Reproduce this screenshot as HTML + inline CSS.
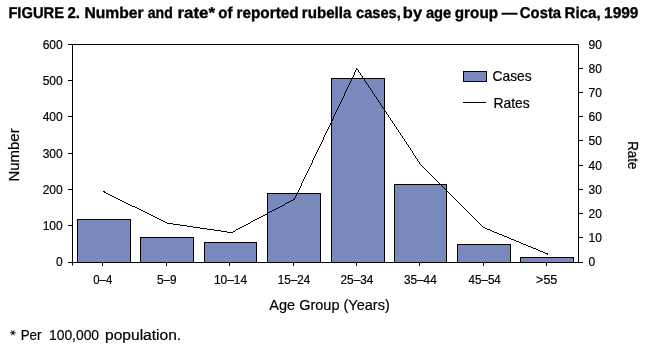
<!DOCTYPE html><html><head><meta charset="utf-8"><style>html,body{margin:0;padding:0;background:#fff;overflow:hidden}svg{display:block;will-change:transform}text{font-family:"Liberation Sans",sans-serif;fill:#000}.n text{stroke:#000;stroke-width:0.2px}</style></head><body>
<svg width="649" height="351" viewBox="0 0 649 351">
<text transform="translate(8.38 17.6) scale(0.9203 0.98)" font-size="16" font-weight="bold" stroke="#000" stroke-width="0.35" text-rendering="geometricPrecision">FIGURE</text>
<text transform="translate(67.50 17.6) scale(0.9385 0.98)" font-size="16" font-weight="bold" stroke="#000" stroke-width="0.35" text-rendering="geometricPrecision">2.</text>
<text transform="translate(84.42 17.6) scale(0.9797 0.98)" font-size="16" font-weight="bold" stroke="#000" stroke-width="0.35" text-rendering="geometricPrecision">Number</text>
<text transform="translate(147.80 17.6) scale(0.8786 0.98)" font-size="16" font-weight="bold" stroke="#000" stroke-width="0.35" text-rendering="geometricPrecision">and</text>
<text transform="translate(177.44 17.6) scale(1.0571 0.98)" font-size="16" font-weight="bold" stroke="#000" stroke-width="0.35" text-rendering="geometricPrecision">rate*</text>
<text transform="translate(218.36 17.6) scale(0.9357 0.98)" font-size="16" font-weight="bold" stroke="#000" stroke-width="0.35" text-rendering="geometricPrecision">of</text>
<text transform="translate(236.44 17.6) scale(0.9587 0.98)" font-size="16" font-weight="bold" stroke="#000" stroke-width="0.35" text-rendering="geometricPrecision">reported</text>
<text transform="translate(301.75 17.6) scale(0.9481 0.98)" font-size="16" font-weight="bold" stroke="#000" stroke-width="0.35" text-rendering="geometricPrecision">rubella</text>
<text transform="translate(355.98 17.6) scale(0.9170 0.98)" font-size="16" font-weight="bold" stroke="#000" stroke-width="0.35" text-rendering="geometricPrecision">cases,</text>
<text transform="translate(402.87 17.6) scale(1.0278 0.98)" font-size="16" font-weight="bold" stroke="#000" stroke-width="0.35" text-rendering="geometricPrecision">by</text>
<text transform="translate(425.90 17.6) scale(0.9222 0.98)" font-size="16" font-weight="bold" stroke="#000" stroke-width="0.35" text-rendering="geometricPrecision">age</text>
<text transform="translate(454.74 17.6) scale(0.9568 0.98)" font-size="16" font-weight="bold" stroke="#000" stroke-width="0.35" text-rendering="geometricPrecision">group</text>
<text transform="translate(501.80 17.6) scale(0.9687 0.98)" font-size="16" font-weight="bold" stroke="#000" stroke-width="0.35" text-rendering="geometricPrecision">—</text>
<text transform="translate(519.87 17.6) scale(0.9273 0.98)" font-size="16" font-weight="bold" stroke="#000" stroke-width="0.35" text-rendering="geometricPrecision">Costa</text>
<text transform="translate(564.56 17.6) scale(0.9417 0.98)" font-size="16" font-weight="bold" stroke="#000" stroke-width="0.35" text-rendering="geometricPrecision">Rica,</text>
<text transform="translate(604.03 17.6) scale(0.9676 0.98)" font-size="16" font-weight="bold" stroke="#000" stroke-width="0.35" text-rendering="geometricPrecision">1999</text>
<text transform="translate(93.30 284) scale(0.9450 1)" font-size="12" stroke="#000" stroke-width="0.2">0–4</text>
<text transform="translate(156.92 284) scale(0.9842 1)" font-size="12" stroke="#000" stroke-width="0.2">5–9</text>
<text transform="translate(213.90 284) scale(0.9969 1)" font-size="12" stroke="#000" stroke-width="0.2">10–14</text>
<text transform="translate(277.83 284) scale(0.9719 1)" font-size="12" stroke="#000" stroke-width="0.2">15–24</text>
<text transform="translate(340.51 284) scale(0.9875 1)" font-size="12" stroke="#000" stroke-width="0.2">25–34</text>
<text transform="translate(403.92 284) scale(0.9844 1)" font-size="12" stroke="#000" stroke-width="0.2">35–44</text>
<text transform="translate(468.50 284) scale(0.9697 1)" font-size="12" stroke="#000" stroke-width="0.2">45–54</text>
<text transform="translate(536.05 284) scale(1.0474 1)" font-size="12" stroke="#000" stroke-width="0.2">&gt;55</text>
<text transform="translate(269.30 309.8) scale(1.0374 1)" font-size="14" stroke="#000" stroke-width="0.2">Age Group (Years)</text>
<text transform="translate(492.51 80.8) scale(0.9868 1)" font-size="14" stroke="#000" stroke-width="0.2">Cases</text>
<text transform="translate(493.51 107.8) scale(0.9914 1)" font-size="14" stroke="#000" stroke-width="0.2">Rates</text>
<text transform="translate(20.64 340) scale(0.9619 1)" font-size="14" stroke="#000" stroke-width="0.2">Per</text>
<text transform="translate(49.01 340) scale(0.9898 1)" font-size="14" stroke="#000" stroke-width="0.2">100,000</text>
<text transform="translate(104.99 340) scale(1.1136 1)" font-size="14" stroke="#000" stroke-width="0.2">population.</text>
<text transform="translate(19.2 181.57) rotate(-90) scale(1.0694 1)" font-size="14" stroke="#000" stroke-width="0.2">Number</text>
<text transform="translate(628 141.14) rotate(90) scale(0.9571 1)" font-size="14" stroke="#000" stroke-width="0.2">Rate</text>
<rect x="77.5" y="219.5" width="53" height="43" fill="#7989be" stroke="#000" stroke-width="1"/>
<rect x="140.5" y="237.5" width="53" height="25" fill="#7989be" stroke="#000" stroke-width="1"/>
<rect x="204.5" y="242.5" width="52" height="20" fill="#7989be" stroke="#000" stroke-width="1"/>
<rect x="267.5" y="193.5" width="53" height="69" fill="#7989be" stroke="#000" stroke-width="1"/>
<rect x="331.5" y="78.5" width="53" height="184" fill="#7989be" stroke="#000" stroke-width="1"/>
<rect x="394.5" y="184.5" width="52" height="78" fill="#7989be" stroke="#000" stroke-width="1"/>
<rect x="457.5" y="244.5" width="53" height="18" fill="#7989be" stroke="#000" stroke-width="1"/>
<rect x="520.5" y="257.5" width="53" height="5" fill="#7989be" stroke="#000" stroke-width="1"/>
<path d="M72.5 44.5H578.5 M72.5 44.5V265.5 M578.5 44.5V262.5 M68 262.5H583 M68 80.5H72.5 M68 116.5H72.5 M68 153.5H72.5 M68 189.5H72.5 M68 225.5H72.5 M68 44.5H72.5 M578.5 68.5H583 M578.5 92.5H583 M578.5 116.5H583 M578.5 140.5H583 M578.5 165.5H583 M578.5 189.5H583 M578.5 213.5H583 M578.5 237.5H583 M102.5 262.5V266 M166.5 262.5V266 M229.5 262.5V266 M293.5 262.5V266 M356.5 262.5V266 M419.5 262.5V266 M483.5 262.5V266 M546.5 262.5V266" stroke="#000" stroke-width="1" fill="none"/>
<text x="62.7" y="266" font-size="12" text-anchor="end" stroke="#000" stroke-width="0.2">0</text>
<text x="62.7" y="230" font-size="12" text-anchor="end" stroke="#000" stroke-width="0.2">100</text>
<text x="62.7" y="194" font-size="12" text-anchor="end" stroke="#000" stroke-width="0.2">200</text>
<text x="62.7" y="158" font-size="12" text-anchor="end" stroke="#000" stroke-width="0.2">300</text>
<text x="62.7" y="121" font-size="12" text-anchor="end" stroke="#000" stroke-width="0.2">400</text>
<text x="62.7" y="85" font-size="12" text-anchor="end" stroke="#000" stroke-width="0.2">500</text>
<text x="62.7" y="49" font-size="12" text-anchor="end" stroke="#000" stroke-width="0.2">600</text>
<text x="588.6" y="266" font-size="12" stroke="#000" stroke-width="0.2">0</text>
<text x="588.6" y="242" font-size="12" stroke="#000" stroke-width="0.2">10</text>
<text x="588.6" y="218" font-size="12" stroke="#000" stroke-width="0.2">20</text>
<text x="588.6" y="194" font-size="12" stroke="#000" stroke-width="0.2">30</text>
<text x="588.6" y="170" font-size="12" stroke="#000" stroke-width="0.2">40</text>
<text x="588.6" y="145" font-size="12" stroke="#000" stroke-width="0.2">50</text>
<text x="588.6" y="121" font-size="12" stroke="#000" stroke-width="0.2">60</text>
<text x="588.6" y="97" font-size="12" stroke="#000" stroke-width="0.2">70</text>
<text x="588.6" y="73" font-size="12" stroke="#000" stroke-width="0.2">80</text>
<text x="588.6" y="49" font-size="12" stroke="#000" stroke-width="0.2">90</text>
<path d="M356 68h1v1h-1zM356 69h2v1h-2zM355 70h1v1h-1zM358 70h1v1h-1zM355 71h1v1h-1zM358 71h1v1h-1zM354 72h1v1h-1zM359 72h1v1h-1zM354 73h1v1h-1zM360 73h1v1h-1zM354 74h1v1h-1zM360 74h1v1h-1zM353 75h1v1h-1zM361 75h1v1h-1zM353 76h1v1h-1zM362 76h1v1h-1zM352 77h1v1h-1zM362 77h1v1h-1zM352 78h1v1h-1zM363 78h1v1h-1zM351 79h1v1h-1zM364 79h1v1h-1zM351 80h1v1h-1zM364 80h1v1h-1zM350 81h1v1h-1zM365 81h1v1h-1zM350 82h1v1h-1zM366 82h1v1h-1zM349 83h1v1h-1zM366 83h1v1h-1zM349 84h1v1h-1zM367 84h1v1h-1zM348 85h1v1h-1zM368 85h1v1h-1zM348 86h1v1h-1zM368 86h1v1h-1zM347 87h1v1h-1zM369 87h1v1h-1zM347 88h1v1h-1zM370 88h1v1h-1zM346 89h1v1h-1zM370 89h1v1h-1zM346 90h1v1h-1zM371 90h1v1h-1zM345 91h1v1h-1zM372 91h1v1h-1zM345 92h1v1h-1zM372 92h1v1h-1zM344 93h1v1h-1zM373 93h1v1h-1zM344 94h1v1h-1zM374 94h1v1h-1zM344 95h1v1h-1zM374 95h1v1h-1zM343 96h1v1h-1zM375 96h1v1h-1zM343 97h1v1h-1zM376 97h1v1h-1zM342 98h1v1h-1zM376 98h1v1h-1zM342 99h1v1h-1zM377 99h1v1h-1zM341 100h1v1h-1zM378 100h1v1h-1zM341 101h1v1h-1zM378 101h1v1h-1zM340 102h1v1h-1zM379 102h1v1h-1zM340 103h1v1h-1zM380 103h1v1h-1zM339 104h1v1h-1zM380 104h1v1h-1zM339 105h1v1h-1zM381 105h1v1h-1zM338 106h1v1h-1zM382 106h1v1h-1zM338 107h1v1h-1zM382 107h1v1h-1zM337 108h1v1h-1zM383 108h1v1h-1zM337 109h1v1h-1zM384 109h1v1h-1zM336 110h1v1h-1zM384 110h1v1h-1zM336 111h1v1h-1zM385 111h1v1h-1zM335 112h1v1h-1zM386 112h1v1h-1zM335 113h1v1h-1zM386 113h1v1h-1zM334 114h1v1h-1zM387 114h1v1h-1zM334 115h1v1h-1zM388 115h1v1h-1zM333 116h1v1h-1zM388 116h1v1h-1zM333 117h1v1h-1zM389 117h1v1h-1zM333 118h1v1h-1zM390 118h1v1h-1zM332 119h1v1h-1zM390 119h1v1h-1zM332 120h1v1h-1zM391 120h1v1h-1zM331 121h1v1h-1zM392 121h1v1h-1zM331 122h1v1h-1zM392 122h1v1h-1zM330 123h1v1h-1zM393 123h1v1h-1zM330 124h1v1h-1zM394 124h1v1h-1zM329 125h1v1h-1zM394 125h1v1h-1zM329 126h1v1h-1zM395 126h1v1h-1zM328 127h1v1h-1zM396 127h1v1h-1zM328 128h1v1h-1zM396 128h1v1h-1zM327 129h1v1h-1zM397 129h1v1h-1zM327 130h1v1h-1zM398 130h1v1h-1zM326 131h1v1h-1zM398 131h1v1h-1zM326 132h1v1h-1zM399 132h1v1h-1zM325 133h1v1h-1zM400 133h1v1h-1zM325 134h1v1h-1zM400 134h1v1h-1zM324 135h1v1h-1zM401 135h1v1h-1zM324 136h1v1h-1zM402 136h1v1h-1zM323 137h1v1h-1zM402 137h1v1h-1zM323 138h1v1h-1zM403 138h1v1h-1zM323 139h1v1h-1zM404 139h1v1h-1zM322 140h1v1h-1zM404 140h1v1h-1zM322 141h1v1h-1zM405 141h1v1h-1zM321 142h1v1h-1zM406 142h1v1h-1zM321 143h1v1h-1zM406 143h1v1h-1zM320 144h1v1h-1zM407 144h1v1h-1zM320 145h1v1h-1zM408 145h1v1h-1zM319 146h1v1h-1zM408 146h1v1h-1zM319 147h1v1h-1zM409 147h1v1h-1zM318 148h1v1h-1zM410 148h1v1h-1zM318 149h1v1h-1zM410 149h1v1h-1zM317 150h1v1h-1zM411 150h1v1h-1zM317 151h1v1h-1zM412 151h1v1h-1zM316 152h1v1h-1zM412 152h1v1h-1zM316 153h1v1h-1zM413 153h1v1h-1zM315 154h1v1h-1zM413 154h1v1h-1zM315 155h1v1h-1zM414 155h1v1h-1zM314 156h1v1h-1zM415 156h1v1h-1zM314 157h1v1h-1zM415 157h1v1h-1zM313 158h1v1h-1zM416 158h1v1h-1zM313 159h1v1h-1zM417 159h1v1h-1zM312 160h1v1h-1zM417 160h1v1h-1zM312 161h1v1h-1zM418 161h1v1h-1zM312 162h1v1h-1zM419 162h1v1h-1zM311 163h1v1h-1zM419 163h1v1h-1zM311 164h1v1h-1zM420 164h1v1h-1zM310 165h1v1h-1zM421 165h1v1h-1zM310 166h1v1h-1zM422 166h1v1h-1zM309 167h1v1h-1zM423 167h1v1h-1zM309 168h1v1h-1zM424 168h1v1h-1zM308 169h1v1h-1zM425 169h1v1h-1zM308 170h1v1h-1zM426 170h1v1h-1zM307 171h1v1h-1zM427 171h1v1h-1zM307 172h1v1h-1zM428 172h1v1h-1zM306 173h1v1h-1zM429 173h1v1h-1zM306 174h1v1h-1zM430 174h1v1h-1zM305 175h1v1h-1zM431 175h1v1h-1zM305 176h1v1h-1zM432 176h1v1h-1zM304 177h1v1h-1zM433 177h1v1h-1zM304 178h1v1h-1zM434 178h1v1h-1zM303 179h1v1h-1zM435 179h1v1h-1zM303 180h1v1h-1zM436 180h1v1h-1zM302 181h1v1h-1zM437 181h1v1h-1zM302 182h1v1h-1zM438 182h1v1h-1zM301 183h1v1h-1zM439 183h1v1h-1zM301 184h1v1h-1zM440 184h1v1h-1zM301 185h1v1h-1zM441 185h1v1h-1zM300 186h1v1h-1zM442 186h1v1h-1zM300 187h1v1h-1zM443 187h1v1h-1zM299 188h1v1h-1zM444 188h1v1h-1zM299 189h1v1h-1zM445 189h1v1h-1zM298 190h1v1h-1zM446 190h1v1h-1zM103 191h2v1h-2zM298 191h1v1h-1zM447 191h1v1h-1zM104 192h2v1h-2zM297 192h1v1h-1zM448 192h1v1h-1zM106 193h2v1h-2zM297 193h1v1h-1zM449 193h1v1h-1zM108 194h2v1h-2zM296 194h1v1h-1zM450 194h1v1h-1zM110 195h2v1h-2zM296 195h1v1h-1zM451 195h1v1h-1zM112 196h2v1h-2zM295 196h1v1h-1zM452 196h1v1h-1zM114 197h2v1h-2zM295 197h1v1h-1zM453 197h1v1h-1zM116 198h2v1h-2zM294 198h1v1h-1zM454 198h1v1h-1zM118 199h2v1h-2zM293 199h2v1h-2zM455 199h1v1h-1zM120 200h2v1h-2zM291 200h2v1h-2zM456 200h1v1h-1zM122 201h2v1h-2zM289 201h2v1h-2zM457 201h1v1h-1zM124 202h2v1h-2zM287 202h2v1h-2zM458 202h1v1h-1zM126 203h2v1h-2zM285 203h2v1h-2zM459 203h1v1h-1zM128 204h2v1h-2zM284 204h1v1h-1zM460 204h1v1h-1zM130 205h2v1h-2zM282 205h2v1h-2zM461 205h1v1h-1zM132 206h3v1h-3zM280 206h2v1h-2zM462 206h1v1h-1zM135 207h2v1h-2zM278 207h2v1h-2zM463 207h1v1h-1zM137 208h2v1h-2zM276 208h2v1h-2zM464 208h1v1h-1zM139 209h2v1h-2zM274 209h2v1h-2zM465 209h1v1h-1zM141 210h2v1h-2zM272 210h2v1h-2zM466 210h1v1h-1zM143 211h2v1h-2zM270 211h2v1h-2zM467 211h1v1h-1zM145 212h2v1h-2zM268 212h2v1h-2zM468 212h1v1h-1zM147 213h2v1h-2zM267 213h1v1h-1zM469 213h1v1h-1zM149 214h2v1h-2zM265 214h2v1h-2zM470 214h1v1h-1zM151 215h2v1h-2zM263 215h2v1h-2zM471 215h1v1h-1zM153 216h2v1h-2zM261 216h2v1h-2zM472 216h1v1h-1zM155 217h2v1h-2zM259 217h2v1h-2zM473 217h1v1h-1zM157 218h2v1h-2zM257 218h2v1h-2zM474 218h1v1h-1zM159 219h2v1h-2zM255 219h2v1h-2zM475 219h1v1h-1zM161 220h2v1h-2zM253 220h2v1h-2zM476 220h1v1h-1zM163 221h2v1h-2zM251 221h2v1h-2zM477 221h1v1h-1zM165 222h2v1h-2zM250 222h1v1h-1zM478 222h1v1h-1zM167 223h6v1h-6zM248 223h2v1h-2zM479 223h1v1h-1zM173 224h7v1h-7zM246 224h2v1h-2zM480 224h1v1h-1zM180 225h7v1h-7zM244 225h2v1h-2zM481 225h1v1h-1zM187 226h6v1h-6zM242 226h2v1h-2zM482 226h1v1h-1zM193 227h7v1h-7zM240 227h2v1h-2zM483 227h2v1h-2zM200 228h7v1h-7zM238 228h2v1h-2zM485 228h2v1h-2zM207 229h7v1h-7zM236 229h2v1h-2zM487 229h3v1h-3zM214 230h7v1h-7zM235 230h1v1h-1zM490 230h2v1h-2zM221 231h6v1h-6zM233 231h2v1h-2zM492 231h2v1h-2zM227 232h6v1h-6zM494 232h3v1h-3zM497 233h2v1h-2zM499 234h3v1h-3zM502 235h2v1h-2zM504 236h3v1h-3zM507 237h2v1h-2zM509 238h2v1h-2zM511 239h3v1h-3zM514 240h2v1h-2zM516 241h3v1h-3zM519 242h2v1h-2zM521 243h2v1h-2zM523 244h3v1h-3zM526 245h2v1h-2zM528 246h3v1h-3zM531 247h2v1h-2zM533 248h3v1h-3zM536 249h2v1h-2zM538 250h2v1h-2zM540 251h3v1h-3zM543 252h2v1h-2zM545 253h3v1h-3zM547 254h1v1h-1z" fill="#000" shape-rendering="crispEdges"/>
<path d="M10.1 332.8H15.8M11.45 330.3L14.35 335.3M14.35 330.3L11.45 335.3" stroke="#000" stroke-width="0.95" fill="none"/>
<rect x="463.5" y="71.5" width="23" height="10" fill="#7989be" stroke="#000" stroke-width="1"/>
<path d="M463 102.5H486" stroke="#000" stroke-width="1"/>
</svg></body></html>
